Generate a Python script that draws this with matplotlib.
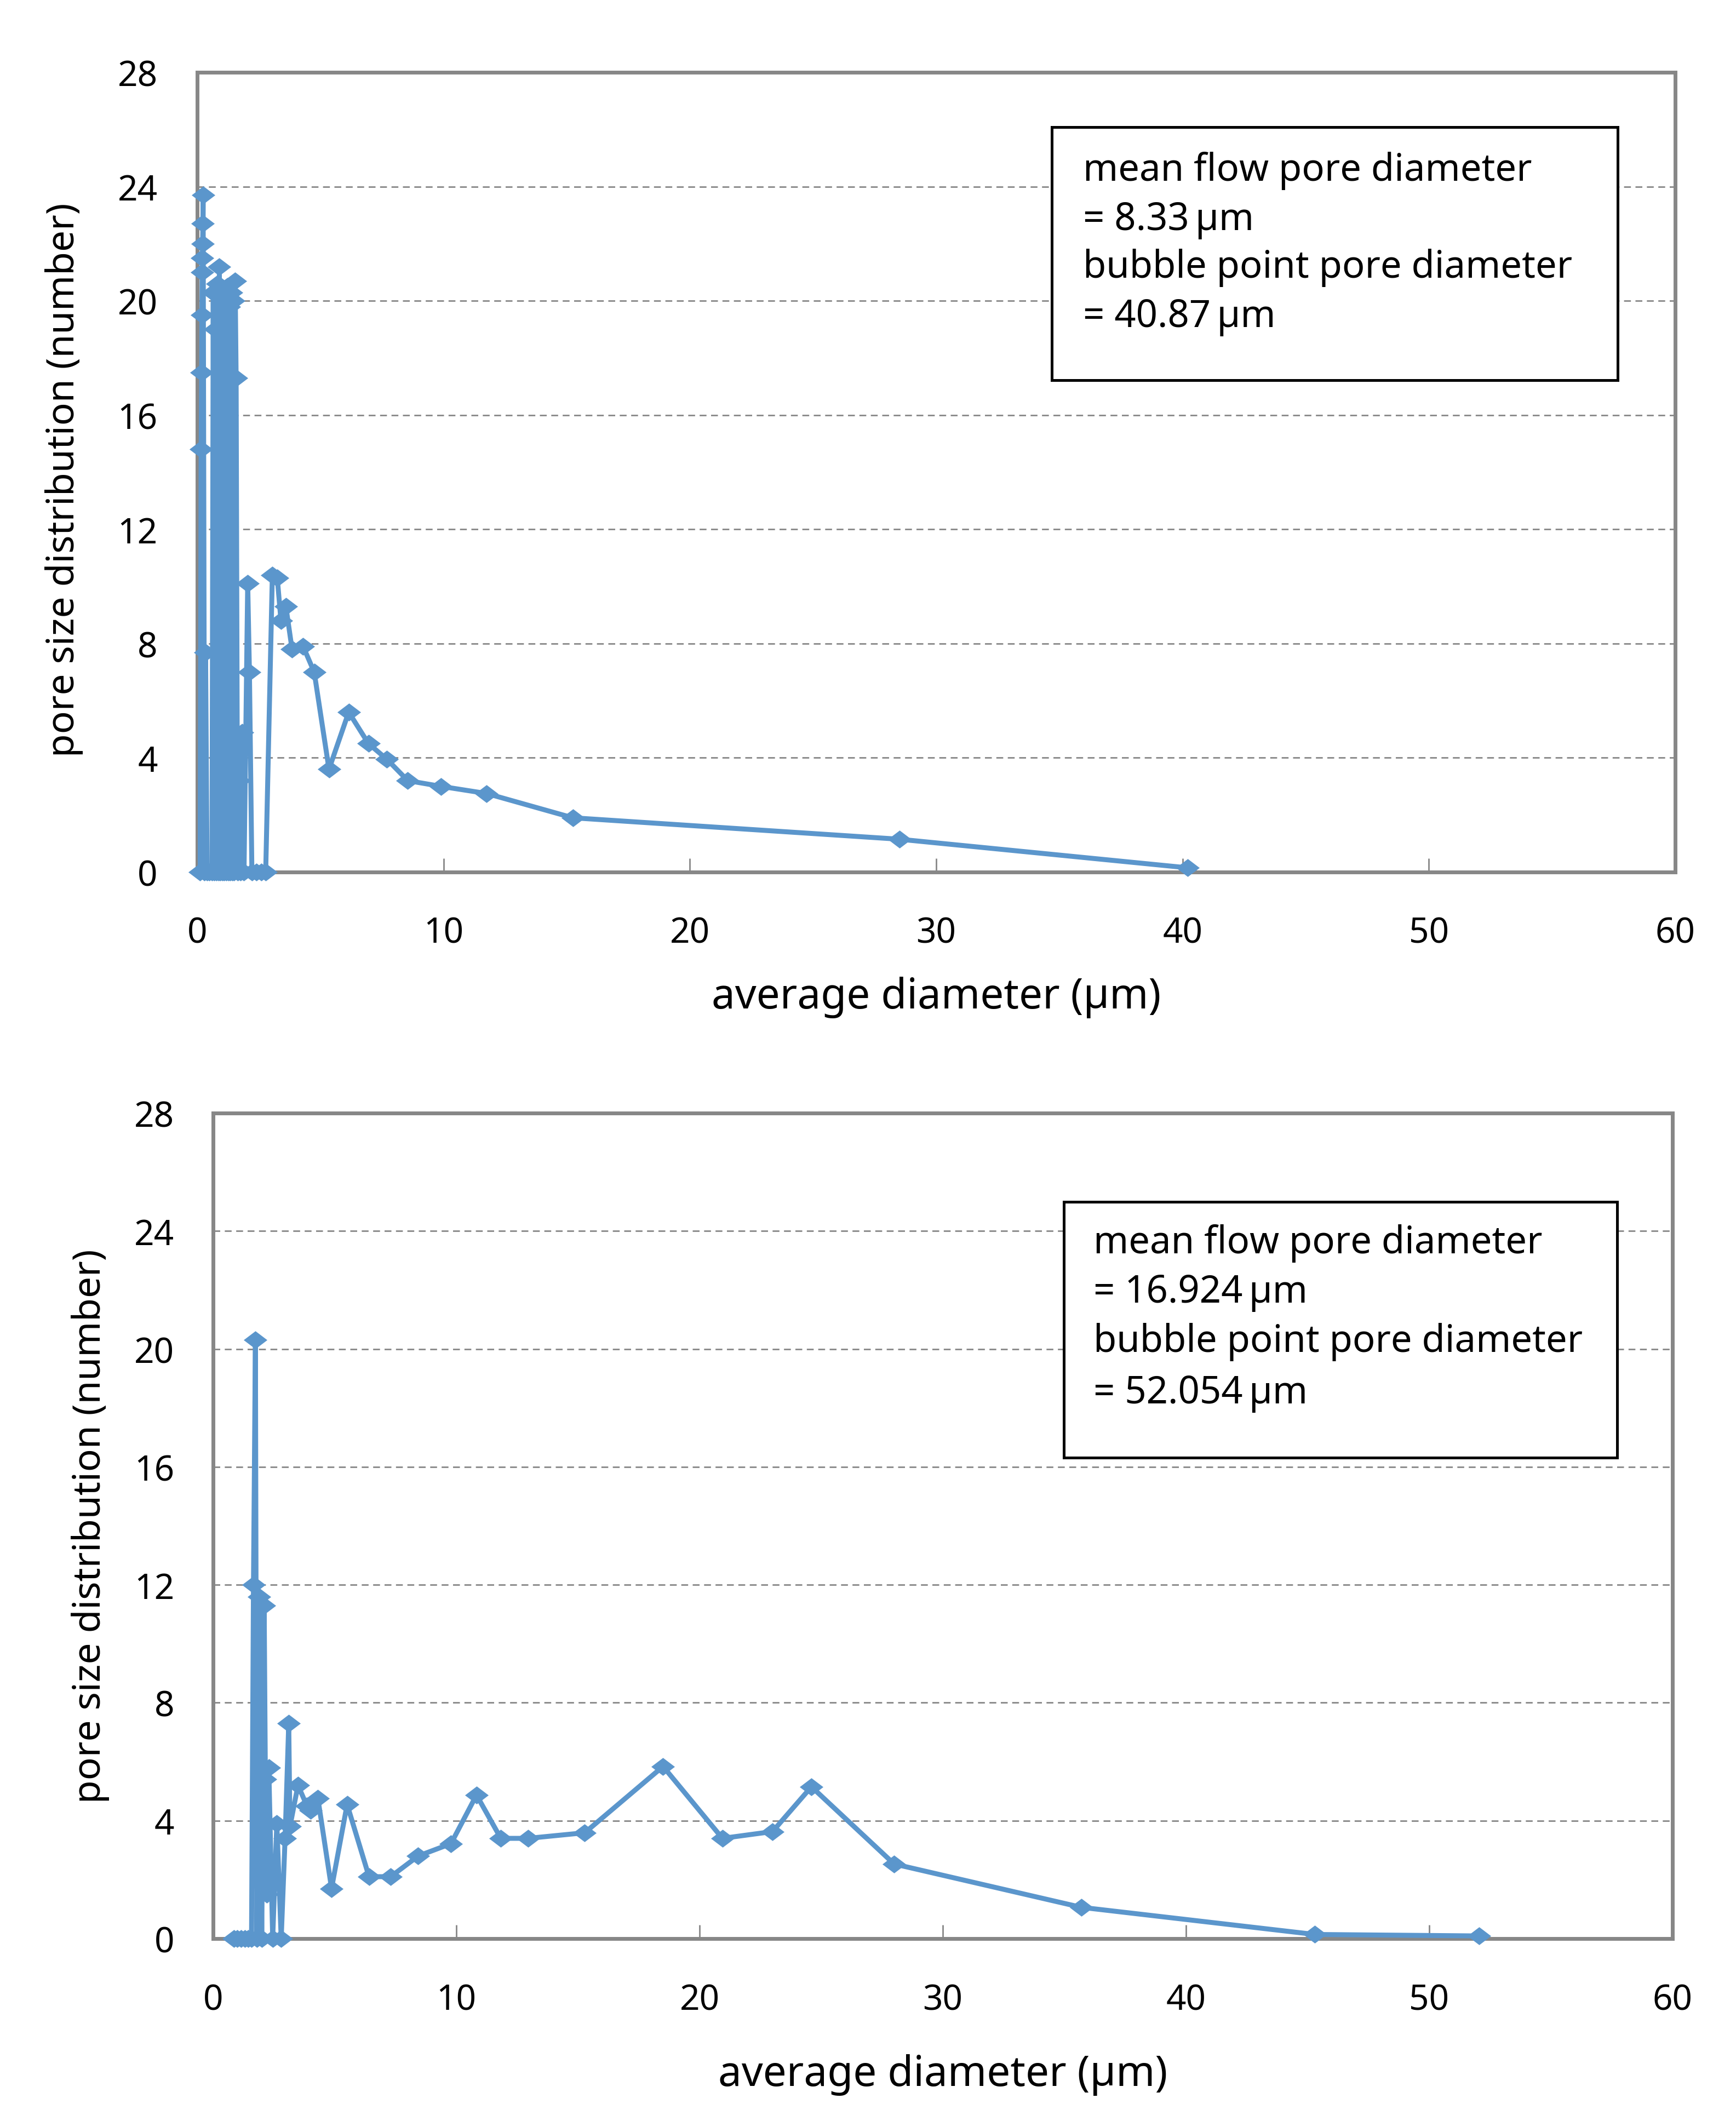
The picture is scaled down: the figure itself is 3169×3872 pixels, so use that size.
import matplotlib
matplotlib.use("Agg")
import matplotlib.pyplot as plt
from matplotlib.patches import Rectangle

plt.rcParams['font.family'] = ['Noto Sans', 'DejaVu Sans']

# ---------------- data ----------------
top_x = [0.12, 0.16, 0.18, 0.19, 0.20, 0.21, 0.22, 0.23, 0.24,
         0.30, 0.34, 0.40, 0.50, 0.60,
         0.65, 0.70, 0.74, 0.78, 0.82, 0.86, 0.90, 0.94, 0.98, 1.02,
         1.06, 1.10, 1.14, 1.18, 1.22, 1.26, 1.30, 1.34, 1.38, 1.42,
         1.46, 1.50, 1.54, 1.58, 1.64, 1.70, 1.76, 1.82, 1.90,
         2.05, 2.12, 2.22, 2.40, 2.60, 2.78,
         3.05, 3.25, 3.40, 3.60, 3.85, 4.30, 4.75, 5.35, 6.15, 6.95,
         7.70, 8.55, 9.90, 11.75, 15.25, 28.50, 40.20]
top_y = [0, 14.8, 17.5, 19.5, 21.0, 21.5, 22.0, 22.7, 23.7,
         0, 7.7, 0, 0, 0,
         20.3, 0, 19.0, 0, 20.6, 0, 21.2, 0, 20.4, 0,
         19.6, 0, 20.1, 0, 20.5, 0, 19.8, 0, 20.3, 0,
         20.0, 0, 20.7, 17.3, 0, 3.2, 0, 4.9, 0,
         10.1, 7.0, 0, 0, 0, 0,
         10.4, 10.3, 8.8, 9.3, 7.8, 7.9, 7.0, 3.6, 5.6, 4.5,
         3.95, 3.2, 3.0, 2.75, 1.9, 1.15, 0.15]

bot_x = [0.85, 1.00, 1.15, 1.30, 1.45, 1.58,
         1.66, 1.74, 1.80, 1.90, 2.00, 2.10, 2.15, 2.20, 2.29,
         2.45, 2.62, 2.80, 2.96, 3.11, 3.16, 3.49, 3.86, 4.00, 4.31,
         4.87, 5.51, 6.41, 7.30, 8.43, 9.78, 10.83, 11.83, 12.94, 15.28,
         18.50, 20.94, 23.00, 24.60, 28.00, 35.70, 45.30, 52.06]
bot_y = [0, 0, 0, 0, 0, 0,
         12.0, 20.3, 0, 11.6, 0, 11.3, 5.4, 1.5, 5.8,
         0, 3.9, 0, 3.4, 7.3, 3.8, 5.2, 4.5, 4.35, 4.75,
         1.7, 4.55, 2.1, 2.1, 2.8, 3.22, 4.87, 3.4, 3.4, 3.59,
         5.84, 3.4, 3.63, 5.15, 2.53, 1.06, 0.14, 0.09]

x_ticks = [0, 10, 20, 30, 40, 50, 60]
y_ticks = [0, 4, 8, 12, 16, 20, 24, 28]
x_label = "average diameter (\u00b5m)"
y_label = "pore size distribution (number)"
top_box = ["mean flow pore diameter", "= 8.33\u2009\u00b5m",
           "bubble point pore diameter", "= 40.87\u2009\u00b5m"]
bot_box = ["mean flow pore diameter", "= 16.924\u2009\u00b5m",
           "bubble point pore diameter", "= 52.054\u2009\u00b5m"]

# ---------------- style ----------------
BLUE = '#5B96CC'
GRAY = '#878787'
diamond = [(-1, 0), (0, 0.76), (1, 0), (0, -0.76), (-1, 0)]

W, H = 3169, 3873
fig = plt.figure(figsize=(W / 100, H / 100), dpi=100)


def make_axes(rect, xs, ys, box_rect, box_text, text_x, baselines,
              ylab_x, ylab_y, xlab_y, ytick_pad, xtick_pad):
    ax = fig.add_axes(rect)
    ax.plot(xs, ys, color=BLUE, lw=6.5, marker=diamond, ms=31,
            markeredgewidth=0, markerfacecolor=BLUE, zorder=3,
            clip_on=False)
    ax.set_xlim(0, 60)
    ax.set_ylim(0, 28)
    ax.set_xticks(x_ticks)
    ax.set_yticks(y_ticks)
    ax.set_xticklabels([str(t) for t in x_ticks])
    ax.set_yticklabels([str(t) for t in y_ticks])
    for sp in ax.spines.values():
        sp.set_color(GRAY)
        sp.set_linewidth(5)
        sp.set_zorder(2)
    ax.tick_params(axis='x', direction='in', length=18, width=2,
                   color=GRAY, labelsize=46, pad=xtick_pad)
    ax.tick_params(axis='y', length=0, labelsize=46, pad=ytick_pad)
    for t in y_ticks[1:-1]:
        ax.axhline(t, color=GRAY, lw=2, ls=(0, (4.5, 3)), zorder=1)
    ax.add_patch(Rectangle((box_rect[0], box_rect[1]),
                           box_rect[2] - box_rect[0],
                           box_rect[3] - box_rect[1],
                           transform=ax.transAxes, facecolor='white',
                           edgecolor='black', lw=3.6, zorder=5))
    for line, by in zip(box_text, baselines):
        ax.text(text_x, by, line, transform=ax.transAxes, fontsize=49.5,
                ha='left', va='baseline', zorder=6)
    ax.text(0.5, xlab_y, x_label, transform=ax.transAxes, fontsize=55,
            ha='center', va='baseline')
    ax.text(ylab_x, ylab_y, y_label, transform=ax.transAxes, fontsize=50,
            ha='center', va='baseline', rotation=90,
            rotation_mode='anchor')
    return ax


make_axes([360 / W, (H - 1593) / H, 2698 / W, 1460 / H],
          top_x, top_y,
          (0.5782, 0.6151, 0.9611, 0.9315), top_box, 0.5993,
          [0.8651, 0.8034, 0.7438, 0.6822],
          -0.0834, 0.491, -0.1699, 52, 57)

make_axes([389 / W, (H - 3540) / H, 2664 / W, 1507 / H],
          bot_x, bot_y,
          (0.5830, 0.5826, 0.9621, 0.8925), bot_box, 0.6032,
          [0.8308, 0.7711, 0.7114, 0.6489],
          -0.0773, 0.5003, -0.178, 51, 58)

fig.savefig("out.png", dpi=100)
